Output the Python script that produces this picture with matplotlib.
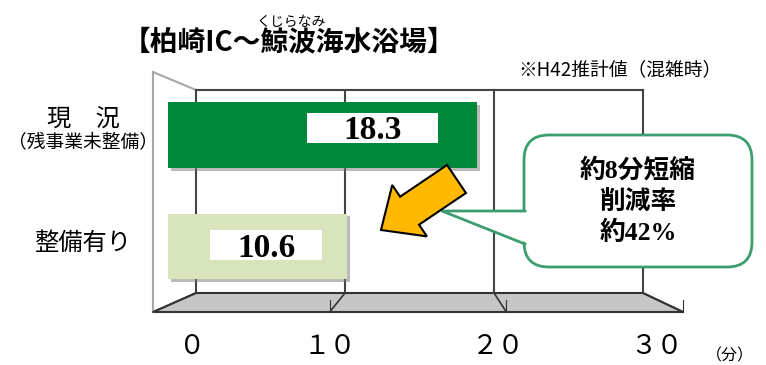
import matplotlib
matplotlib.use('Agg')
import matplotlib.pyplot as plt
import matplotlib.patheffects as pe
from matplotlib.patches import Polygon, Rectangle, FancyBboxPatch, FancyArrow
from matplotlib.transforms import ScaledTranslation

# data
categories = ['現　況', '整備有り']
sub_labels = ['（残事業未整備）', '']
minutes = [18.3, 10.6]
bar_colors = ['#00873c', '#d8e4bc']
ticks = [0, 10, 20, 30]
tick_labels = ['０', '１０', '２０', '３０']
callout_lines = ['約8分短縮', '削減率', '約42%']

JP = 'Noto Sans CJK JP'
MIX = ['Liberation Serif', JP]

W, H = 766, 365
fig = plt.figure(figsize=(W / 100, H / 100), dpi=100)

# 3D-like frame, drawn in pixel coords
bg = fig.add_axes([0, 0, 1, 1])
bg.set_xlim(0, W)
bg.set_ylim(H, 0)
bg.axis('off')


def back_x(v):
    return 196 + v * 14.9


def front_x(v):
    return 153 + v * 17.67


y_top, y_back, y_front, y_wall = 90, 293, 312, 72
bg.add_patch(Polygon([(153, y_wall), (back_x(0), y_top), (back_x(0), y_back), (153, y_front)],
                     closed=True, fc='white', ec='none'))
bg.plot([153, back_x(0)], [y_wall, y_top], color='#a8a8a8', lw=1.5)
bg.plot([153, 153], [y_wall, y_front], color='#a8a8a8', lw=1.5)
bg.add_patch(Polygon([(back_x(0), y_back), (back_x(30), y_back), (front_x(30), y_front),
                      (front_x(0), y_front)], closed=True, fc='#c6c6c6', ec='#333333', lw=1.5))
for v in ticks:
    bg.plot([back_x(v), back_x(v)], [y_top, y_back], color='#444444', lw=1.5)
    bg.plot([back_x(v), front_x(v)], [y_back, y_front], color='#333333', lw=1.2)
    if v > 0:
        bg.plot([front_x(v), front_x(v)], [y_front, y_front - 12], color='#333333', lw=0.8)
bg.plot([back_x(0), back_x(30)], [y_top, y_top], color='#444444', lw=1.5)

# bars
ax = fig.add_axes([168 / W, (H - 302.25) / H, 16.9 * 30 / W, 223 / H])
ax.set_xlim(0, 30)
ax.set_ylim(1.5, -0.5)
ax.patch.set_visible(False)
for s in ax.spines.values():
    s.set_visible(False)
ax.set_yticks([])

pos = list(range(len(categories)))
bars = ax.barh(pos, minutes, height=0.59, color=bar_colors, zorder=2)
for b in bars:
    b.set_path_effects([pe.SimplePatchShadow(offset=(2, -2), shadow_rgbFace='#777777', alpha=0.5),
                        pe.Normal()])

label_x = [12.1, 5.8]
label_dy = [-0.06, -0.01]
box_w = [7.7, 6.6]
box_h = 0.27
for i, v in enumerate(minutes):
    cy = i + label_dy[i]
    ax.add_patch(Rectangle((label_x[i] - box_w[i] / 2, cy - box_h / 2), box_w[i], box_h,
                           fc='white', ec='none', zorder=3))
    ax.text(label_x[i], cy + 0.1, f'{v}', ha='center', va='baseline', fontsize=24,
            family='Liberation Serif', weight='bold', zorder=4)

# category labels
ax.text(-5.03, 0 - 0.135, categories[0], ha='center', va='center', fontsize=17.5, family=JP)
ax.text(-5.03, 0 + 0.065, sub_labels[0], ha='center', va='center', fontsize=13.5, family=JP)
ax.text(-5.03, 1 - 0.03, categories[1], ha='center', va='center', fontsize=17.5, family=JP)

ax.set_xticks(ticks, tick_labels, fontsize=19, family=JP)
ax.tick_params(axis='x', length=0, pad=22)
for lbl, dx in zip(ax.get_xticklabels(), [24, -7, -8, -18]):
    lbl.set_transform(lbl.get_transform() + ScaledTranslation(dx / 100, 0, fig.dpi_scale_trans))

# overlay: titles, arrow, callout
top = fig.add_axes([0, 0, 1, 1])
top.set_xlim(0, W)
top.set_ylim(H, 0)
top.axis('off')
top.patch.set_visible(False)

top.text(288.5, 42, '【柏崎IC～鯨波海水浴場】', ha='center', va='center', fontsize=20,
         weight='bold', family=JP)
top.text(291, 22, 'くじらなみ', ha='center', va='center', fontsize=10, family=JP)
top.text(620, 70, '※H42推計値（混雑時）', ha='center', va='center', fontsize=13.5, family=JP)
top.text(730, 356, '（分）', ha='center', va='center', fontsize=11.5, family=JP)

green = '#3c9e6e'
top.add_patch(FancyBboxPatch((524, 135), 228, 132, boxstyle='round,pad=0,rounding_size=25',
                             fc='white', ec=green, lw=2, zorder=2))
top.add_patch(Polygon([(527, 211), (442, 211), (527, 243)], closed=True, fc='white', ec='none',
                      zorder=3))
top.plot([525, 442, 525], [211, 211, 244], color=green, lw=2, zorder=3)
for txt, y in zip(callout_lines, [170, 202, 233]):
    top.text(638, y, txt, ha='center', va='center', fontsize=18.5, weight='bold', family=MIX,
             zorder=4)

top.add_patch(FancyArrow(456.5, 179, -75.5, 51, width=33.8, head_width=62, head_length=34.5,
                         length_includes_head=True, fc='#ffb900', ec='black', lw=1.5, zorder=5))

fig.savefig('out.png', dpi=100)
